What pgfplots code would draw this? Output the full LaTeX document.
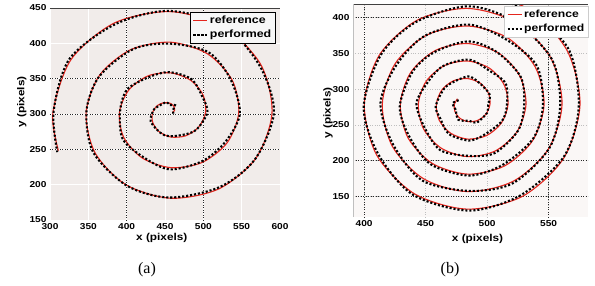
\documentclass[border=0pt]{standalone}
\usepackage{fontspec}
\setmainfont{Liberation Serif}
\newfontfamily\afb[FakeStretch=1.18]{Liberation Sans Bold}
\usepackage{pgfplots}
\pgfplotsset{compat=1.18}
\definecolor{refred}{RGB}{228,38,30}
\definecolor{bgA}{RGB}{241,236,234}
\definecolor{bgB}{RGB}{250,247,246}
\pgfplotsset{
  spiral/.style={
    scale only axis,
    axis line style={draw=none},
    tick style={draw=none},
    /pgf/number format/assume math mode=true,
    /pgf/number format/1000 sep={},
    ticklabel style={font=\afb\fontsize{8.6}{10}\selectfont},
    label style={font=\afb\fontsize{10}{11}\selectfont},
    legend cell align=left,
    grid=major,
    clip=true,
  },
  refline/.style={refred, line width=1.1pt, smooth},
  perfline/.style={black, line width=2.1pt, line cap=butt, dash pattern=on 2.1pt off 1.9pt, smooth},
}
\begin{document}
\begin{tikzpicture}
\path[use as bounding box] (0,0) rectangle (595pt,285pt);
% ---------------- (a)
\begin{axis}[spiral,
  at={(50pt,65pt)}, anchor=south west, width=230pt, height=212pt,
  xmin=300, xmax=600, ymin=150, ymax=450,
  xtick={300,350,...,600}, ytick={150,200,...,450},
  axis background/.style={fill=bgA},
  major grid style={draw=white, line width=0.5pt},
  extra x ticks={400,500}, extra y ticks={250,300,350},
  extra tick style={xticklabel={}, yticklabel={}, major grid style={draw=black!85, dotted, line width=0.6pt}},
  xlabel={x (pixels)}, ylabel={y (pixels)},
  xlabel style={at={(axis description cs:0.486,-0.085)}, anchor=center},
  ylabel style={at={(axis description cs:-0.123,0.557)}, anchor=center},
  legend image code/.code={\draw[#1] (0pt,0pt) -- (14pt,0pt);},
  legend style={at={(0.978,0.981)}, anchor=north east, draw=black, fill=white!97!black,
    font=\afb\fontsize{10.5}{12}\selectfont, inner sep=2pt, row sep=2.5pt,
    nodes={inner sep=1.5pt}},
]
\addplot[refline] coordinates {
(459.5,302) (462.4,304.8) (462.1,310.0) (457.5,314.8) (449.3,316.2) (440.1,312.0)
(433.8,302) (433.9,288.4) (442.1,275.2) (457.5,267.5) (476.6,269.0) (493.6,281.1)
(502.9,302) (499.9,326.5) (483.8,347.5) (457.5,358.2) (427.6,353.8) (402.6,333.7)
(390.5,302) (396.3,266.7) (420.4,237.7) (457.5,224.1) (498.3,231.4) (531.2,259.5)
(546.2,302) (537.5,348.2) (505.5,385.1) (457.5,401.6) (405.9,391.3) (365.0,355.4)
(347.1,302) (358.8,245.0) (398.7,200.1) (457.5,180.8) (519.9,193.9) (568.8,237.8)
(589.6,302) (575.0,369.8) (527.2,422.6) (457.5,444.9) (384.2,428.9) (327.5,377.1)
(303.8,302) (311.0,248.1)
};
\addlegendentry{reference}
\addplot[perfline] coordinates {
(461.0,300.5) (460.4,305.8) (463.1,312.5) (456.0,312.8) (451.8,316.7) (439.1,309.5)
(434.3,304.0) (431.4,289.4) (443.6,273.7) (455.5,268.5) (477.6,271.5) (492.1,279.1)
(505.4,302.5) (498.9,324.0) (484.3,349.5) (455.0,359.2) (429.1,352.3) (400.6,334.7)
(391.5,304.5) (394.8,264.7) (422.9,238.2) (456.5,221.6) (498.8,233.4) (528.7,260.5)
(547.7,300.5) (535.5,349.2) (506.5,387.6) (456.0,399.6) (408.4,391.8) (364.0,352.9)
(347.6,304.0) (356.3,246.0) (400.2,198.6) (455.5,181.8) (520.9,196.4) (567.3,235.8)
(592.1,302.5) (574.0,367.3) (527.7,424.6) (455.0,445.9) (385.7,427.4) (325.5,378.1)
(304.8,304.5) (309.5,246.1)
};
\addlegendentry{performed}
\draw[black!75, line width=0.8pt] (rel axis cs:0,1) -- (rel axis cs:1,1);
\end{axis}
% ---------------- (b)
\begin{axis}[spiral,
  at={(353pt,68pt)}, anchor=south west, width=235pt, height=213pt,
  xmin=391, xmax=582, ymin=121, ymax=419,
  xtick={400,450,500,550}, ytick={150,200,...,400},
  axis background/.style={fill=bgB},
  major grid style={draw=black!25, dotted, line width=0.5pt},
  extra x ticks={400,550}, extra y ticks={150,200,400},
  extra tick style={xticklabel={}, yticklabel={}, major grid style={draw=black!85, dotted, line width=0.6pt}},
  xlabel={x (pixels)}, ylabel={y (pixels)},
  xlabel style={at={(axis description cs:0.53,-0.103)}, anchor=center},
  ylabel style={at={(axis description cs:-0.106,0.488)}, anchor=center},
  legend image code/.code={\draw[#1] (0pt,0pt) -- (14pt,0pt);},
  legend style={at={(1,0.99)}, anchor=north east, draw=black!20, fill=white,
    font=\afb\fontsize{10.3}{12}\selectfont, inner sep=2pt, row sep=2.5pt,
    nodes={inner sep=1.5pt}},
]
\addplot[refline] coordinates {
(475.9,286.4) (473.4,278.5) (473.8,268.6) (477.6,259.5) (484.2,254.5) (492.1,256.0)
(498.9,264.5) (502.3,278.5) (501.0,294.6) (494.5,308.1) (484.2,314.7) (472.7,311.6)
(463.2,298.7) (458.7,278.5) (461.1,256.3) (470.3,238.3) (484.2,230.0) (499.4,234.8)
(511.5,252.2) (517.0,278.5) (513.6,306.8) (501.8,329.3) (484.2,339.2) (465.4,332.9)
(450.5,310.9) (444.1,278.5) (448.4,244.1) (462.9,217.1) (484.2,205.5) (506.7,213.5)
(524.2,240.0) (531.6,278.5) (526.3,319.1) (509.1,350.6) (484.2,363.7) (458.1,354.1)
(437.9,323.2) (429.5,278.5) (435.7,231.8) (455.6,195.8) (484.2,181.0) (514.0,192.3)
(536.9,227.7) (546.3,278.5) (539.0,331.3) (516.5,371.8) (484.2,388.2) (450.7,375.3)
(425.2,335.4) (414.8,278.5) (423.1,219.5) (448.3,174.6) (484.2,156.5) (521.3,171.1)
(549.6,215.5) (560.9,278.5) (551.7,343.6) (523.8,393.0) (484.2,412.8) (443.4,396.5)
(412.5,347.7) (400.2,278.5) (410.4,207.3) (441.0,153.4) (484.2,132.0) (528.7,149.9)
(562.2,203.2) (575.5,278.5) (564.4,355.8) (531.1,414.2) (484.2,437.3)
};
\addlegendentry{reference}
\addplot[perfline] coordinates {
(476.9,284.4) (471.9,280.0) (474.3,271.6) (476.6,257.0) (485.7,255.5) (491.6,253.0)
(499.9,266.5) (500.8,277.5) (502.0,292.6) (493.0,309.6) (484.7,317.7) (471.7,309.1)
(464.7,299.7) (458.2,275.5) (462.1,258.3) (468.8,237.3) (485.2,228.0) (497.9,236.3)
(512.0,255.2) (516.0,276.0) (515.1,307.8) (501.3,326.3) (485.2,341.2) (463.9,331.9)
(451.5,308.9) (442.6,280.0) (448.9,247.1) (461.9,214.6) (485.7,206.5) (506.2,210.5)
(525.2,242.0) (530.1,277.5) (527.3,317.1) (507.6,352.1) (484.7,366.7) (457.1,351.6)
(439.4,324.2) (429.0,275.5) (436.7,233.8) (454.1,194.8) (485.2,179.0) (512.5,193.8)
(537.4,230.7) (545.3,276.0) (540.5,332.3) (516.0,368.8) (485.2,390.2) (449.2,374.3)
(426.2,333.4) (413.3,280.0) (423.6,222.5) (447.3,172.1) (485.7,157.5) (520.8,168.1)
(550.6,217.5) (559.4,277.5) (552.7,341.6) (522.3,394.5) (484.7,415.8) (442.4,394.0)
(414.0,348.7) (399.7,275.5) (411.4,209.3) (439.5,152.4) (485.2,130.0) (527.2,151.4)
(562.7,206.2) (574.5,276.0) (565.9,356.8) (530.6,411.2) (485.2,439.3)
};
\addlegendentry{performed}
\draw[black!75, line width=0.8pt] (rel axis cs:0,1) -- (rel axis cs:1,1);
\draw[black!25, line width=0.5pt] (rel axis cs:0,0) -- (rel axis cs:0,1);
\end{axis}
\node[font=\fontsize{16}{18}\selectfont] at (147pt,15pt) {(a)};
\node[font=\fontsize{16}{18}\selectfont] at (450pt,15pt) {(b)};
\end{tikzpicture}
\end{document}
